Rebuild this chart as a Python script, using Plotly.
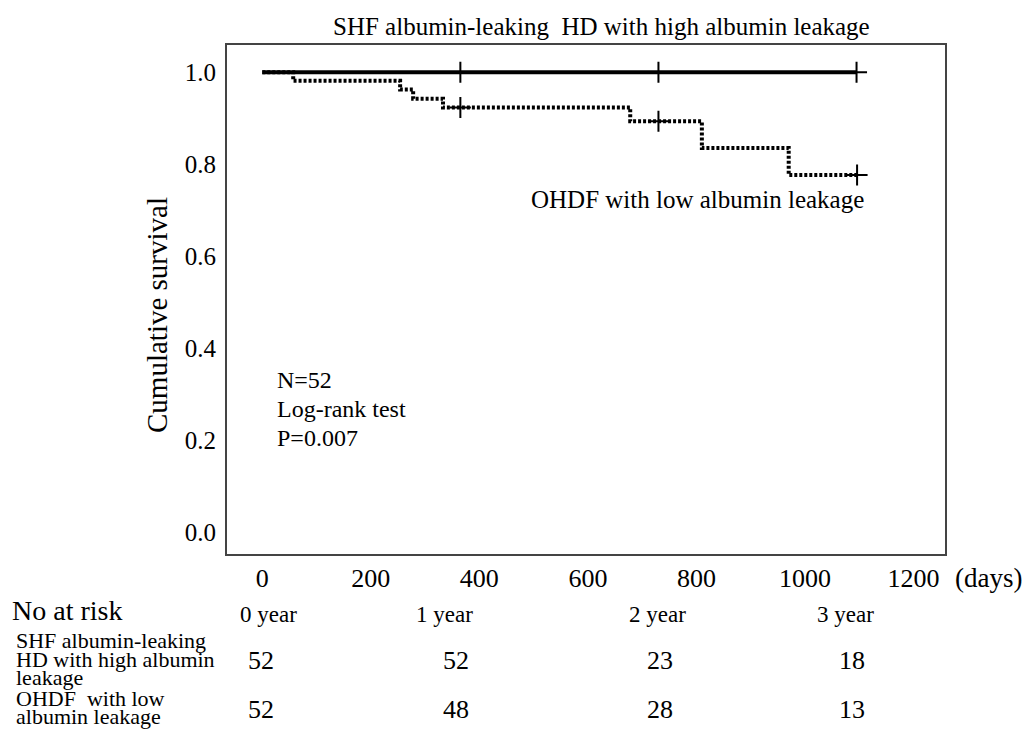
import plotly.graph_objects as go

# ---- data ----
shf_days = [0, 1095]
shf_surv = [1.0, 1.0]
shf_cens_days = [365, 730, 1095]
shf_cens_surv = [1.0, 1.0, 1.0]

ohdf_days = [0, 57, 254, 278, 333, 678, 810, 970, 1096]
ohdf_surv = [1.0, 0.981, 0.962, 0.942, 0.923, 0.893, 0.835, 0.776, 0.776]
ohdf_cens_days = [365, 730, 1096]
ohdf_cens_surv = [0.923, 0.893, 0.776]

x_ticks = [0, 200, 400, 600, 800, 1000, 1200]
y_ticks = [0.0, 0.2, 0.4, 0.6, 0.8, 1.0]

risk_headers = ["0 year", "1 year", "2 year", "3 year"]
risk_shf = [52, 52, 23, 18]
risk_ohdf = [52, 48, 28, 13]
row_label_shf = ["SHF albumin-leaking", "HD with high albumin", "leakage"]
row_label_ohdf = ["OHDF  with low", "albumin leakage"]

FONT = "Liberation Serif"
OFF = 8  # page body margin
W, H = 1033 - OFF, 729 - OFF
L, R, T, B = 227, 945, 45, 554  # plot box in reference pixels


def px(xp):
    return (xp - L) / (R - L)


def py(yp):
    return (B - yp) / (B - T)


fig = go.Figure()
fig.add_trace(go.Scatter(x=shf_days, y=shf_surv, mode="lines", line=dict(color="black", width=4, shape="hv"),
                         showlegend=False, hoverinfo="skip"))
fig.add_trace(go.Scatter(x=ohdf_days, y=ohdf_surv, mode="lines",
                         line=dict(color="black", width=4, shape="hv", dash="3px,2px"),
                         showlegend=False, hoverinfo="skip"))
for xs, ys in [(shf_cens_days, shf_cens_surv), (ohdf_cens_days, ohdf_cens_surv)]:
    fig.add_trace(go.Scatter(x=xs, y=ys, mode="markers",
                             marker=dict(symbol="cross-thin-open", size=15, color="black",
                                         line=dict(color="black", width=2)),
                             showlegend=False, hoverinfo="skip"))

fig.update_xaxes(range=[-65, 1258], tickvals=x_ticks, ticktext=[str(v) for v in x_ticks],
                 showline=True, mirror=True, linecolor="#444", linewidth=2, showgrid=False, zeroline=False,
                 ticks="", ticklabelstandoff=0, tickfont=dict(family=FONT, size=26, color="black"))
fig.update_yaxes(range=[-0.048, 1.059], tickvals=y_ticks, ticktext=["%.1f" % v for v in y_ticks],
                 showline=True, mirror=True, linecolor="#444", linewidth=2, showgrid=False, zeroline=False,
                 ticks="", ticklabelstandoff=4, tickfont=dict(family=FONT, size=25, color="black"))

ann = []


def add(text, x, y, size=21, xanchor="center", angle=0):
    ann.append(dict(text=text, x=x, y=y, xref="paper", yref="paper", xanchor=xanchor, yanchor="middle",
                    showarrow=False, textangle=angle, font=dict(family=FONT, size=size, color="black")))


add("Cumulative survival", px(157), py(315), 29, "center", -90)
add("SHF albumin-leaking  HD with high albumin leakage", px(601), py(27), 25)
add("OHDF with low albumin leakage", px(866), py(200), 25, "right")
add("N=52", px(275), py(380), 24, "left")
add("Log-rank test", px(275), py(409), 24, "left")
add("P=0.007", px(275), py(438), 24, "left")
add("(days)", px(953), py(578), 27, "left")
add("No at risk", px(10), py(610), 28, "left")

header_x = [268, 444, 657, 845]
num_x = [261, 456, 660, 852]
for hx, h in zip(header_x, risk_headers):
    add(h, px(hx), py(614), 23)
for nx, v in zip(num_x, risk_shf):
    add(str(v), px(nx), py(661), 26)
for nx, v in zip(num_x, risk_ohdf):
    add(str(v), px(nx), py(709), 26)

for yy, t in zip([640, 659, 677], row_label_shf):
    add(t, px(14), py(yy), 22, "left")
for yy, t in zip([698, 716], row_label_ohdf):
    add(t, px(14), py(yy), 22, "left")

fig.update_layout(width=W, height=H, margin=dict(l=L - OFF, r=W - (R - OFF), t=T - OFF, b=H - (B - OFF)),
                  paper_bgcolor="white", plot_bgcolor="white", annotations=ann,
                  font=dict(family=FONT, color="black"))
fig.write_html("out.html")
